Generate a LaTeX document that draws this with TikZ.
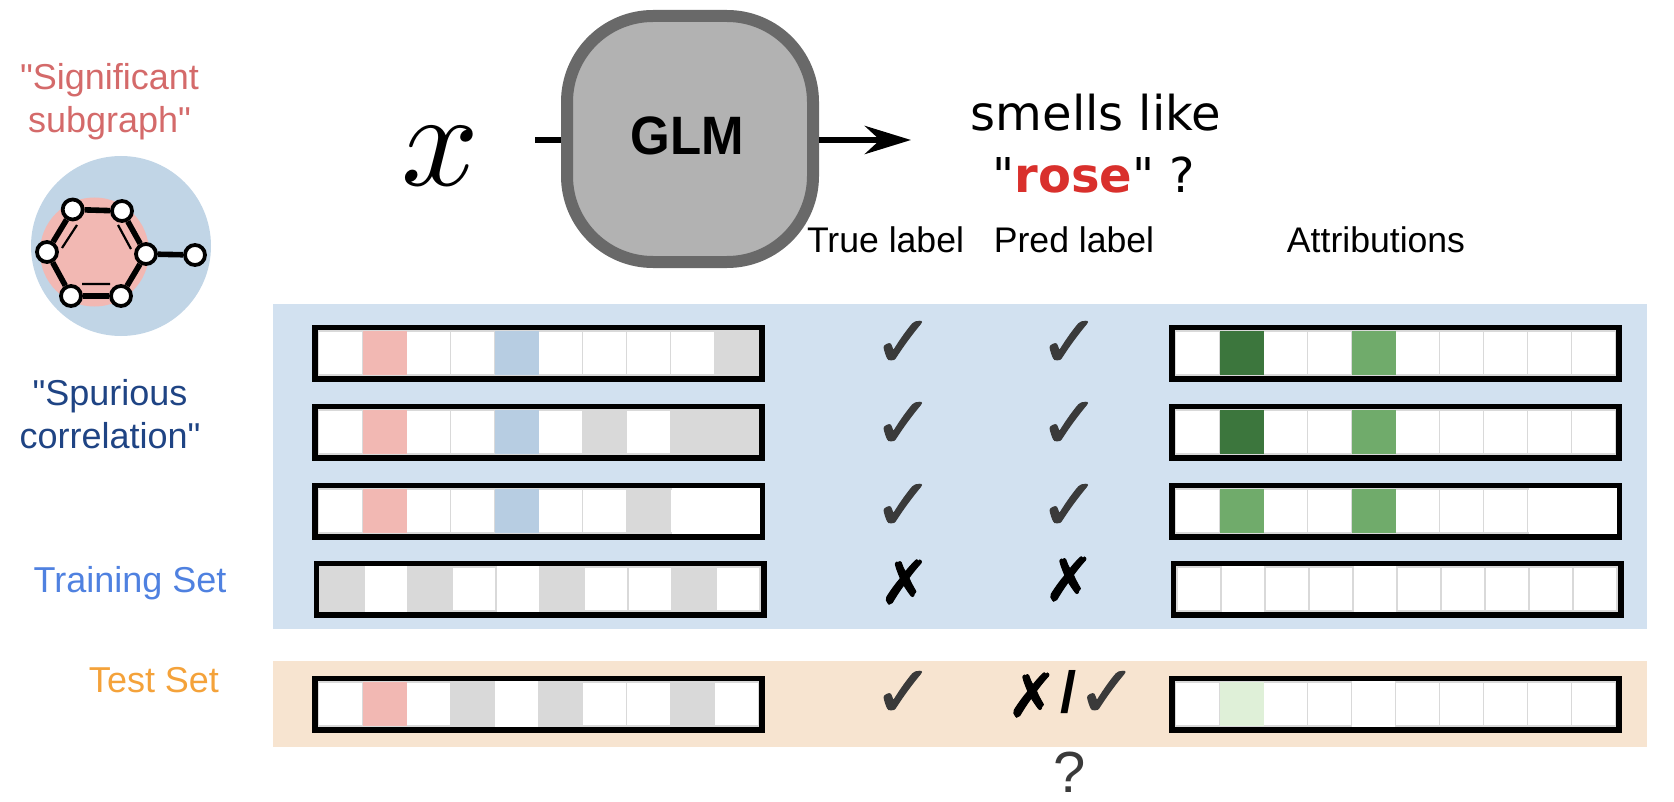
\documentclass[tikz,border=0pt]{standalone}
\usepackage{fontspec}
\setmainfont{Liberation Sans}
\newfontfamily\dejavu{DejaVu Sans}
\newfontfamily\liberation{Liberation Sans}
\newfontfamily\markfont{DejaVu Sans}[FakeBold=1.6]
\usetikzlibrary{arrows.meta}
\definecolor{panelblue}{HTML}{D2E1F0}
\definecolor{panelorange}{HTML}{F7E4D0}
\definecolor{cpink}{HTML}{F2B8B3}
\definecolor{cblue}{HTML}{B7CDE2}
\definecolor{cgray}{HTML}{D9D9D9}
\definecolor{gdark}{HTML}{3C763D}
\definecolor{gmid}{HTML}{70AB6B}
\definecolor{glight}{HTML}{DFF0D8}
\definecolor{molblue}{HTML}{C1D5E6}
\definecolor{sigred}{HTML}{D46A6A}
\definecolor{spublue}{HTML}{1F4484}
\definecolor{trainblue}{HTML}{4F81E0}
\definecolor{testorange}{HTML}{F4A23A}
\definecolor{rosered}{HTML}{D9302C}
\definecolor{markgray}{HTML}{3A3A3A}
\newcommand{\sq}{{\liberation"}}
\tikzset{
  x=0.5pt,y=-0.5pt,
  label/.style={inner sep=0,align=center,font=\fontsize{18}{21.5}\selectfont},
  sidelabel/.style={inner sep=0,anchor=base,font=\fontsize{18}{20}\selectfont},
  headlabel/.style={inner sep=0,anchor=base,font=\fontsize{17.8}{20}\selectfont},
  atom/.style={circle,draw=black,fill=white,line width=1.9pt,minimum size=10pt,inner sep=0},
  bond/.style={line width=2.8pt,black},
  thinbond/.style={line width=1.1pt,black},
  checkmark/.style={inner sep=0,text=markgray,font=\markfont\fontsize{36}{36}\selectfont},
  crossmark/.style={inner sep=0,text=black,font=\markfont\fontsize{30}{30}\selectfont},
  flow/.style={line width=3.4pt,black},
}
\newcommand{\cellbar}[4]{%
  % #1 x inner left, #2 y inner top, #3 list of index/colour, #4 list of cells with no top and bottom line
  \fill[black] (#1-6.5,#2-6.5) rectangle (#1+446.5,#2+50.5);
  \fill[white] (#1,#2) rectangle (#1+440,#2+44);
  \foreach \i in {0,...,9}{%
    \draw[cgray,line width=0.7pt] (#1+44*\i,#2) rectangle (#1+44*\i+44,#2+44);
  }%
  \foreach \i in {#4}{%
    \fill[white] (#1+44*\i+0.8,#2-0.8) rectangle (#1+44*\i+43.2,#2+44.8);
  }%
  \foreach \i/\c in {#3}{%
    \fill[\c] (#1+44*\i,#2) rectangle (#1+44*\i+44,#2+44);
  }%
}
\begin{document}
\begin{tikzpicture}
\useasboundingbox (0,0) rectangle (1674,802);
\fill[panelblue] (273,304) rectangle (1647,629);
\fill[panelorange] (273,661) rectangle (1647,747);
% input bars
\cellbar{318.5}{331}{1/cpink,4/cblue,9/cgray}{}
\cellbar{318.5}{410}{1/cpink,4/cblue,6/cgray,8/cgray,9/cgray}{}
\cellbar{318.5}{489}{1/cpink,4/cblue,7/cgray}{}
\fill[white] (1+318.5+44*8,488) rectangle (318.5+440+1,534);
\cellbar{320}{567}{0/cgray,2/cgray,5/cgray,8/cgray}{1,4}
\cellbar{318.5}{682}{1/cpink,3/cgray,5/cgray,8/cgray}{4}
% attribution bars
\cellbar{1175.5}{331}{1/gdark,4/gmid}{}
\cellbar{1175.5}{410}{1/gdark,4/gmid}{}
\cellbar{1175.5}{489}{1/gmid,4/gmid}{}
\fill[white] (1+1175.5+44*8,488) rectangle (1175.5+440+1,534);
\cellbar{1177}{567}{}{1,4}
\cellbar{1175.5}{682}{1/glight}{4}
% molecule
\fill[molblue] (121,246) circle (90);
\fill[cpink] (94.5,252) circle (54.5);
\node[atom] (a1) at (72.7,209.5) {};
\node[atom] (a2) at (122,211) {};
\node[atom] (a3) at (146,254) {};
\node[atom] (a4) at (121,296) {};
\node[atom] (a5) at (71,296) {};
\node[atom] (a6) at (47,252) {};
\node[atom] (a7) at (195,255) {};
\draw[bond] (a1)--(a2) (a2)--(a3) (a3)--(a4) (a4)--(a5) (a5)--(a6) (a6)--(a1) (a3)--(a7);
\coordinate (d1s) at (77,225); \coordinate (d1e) at (62,248);
\coordinate (d2s) at (118,225); \coordinate (d2e) at (131,249);
\coordinate (d3s) at (82,284); \coordinate (d3e) at (110,284);
\draw[thinbond] (d1s)--(d1e) (d2s)--(d2e) (d3s)--(d3e);
% left labels
\node[label,text=sigred] (sig) at (109.5,102) {\sq Significant\\subgraph\sq};
\node[label,text=spublue] (spu) at (110,414) {\sq Spurious\\correlation\sq};
\node[sidelabel,text=trainblue] (train) at (130,592) {Training Set};
\node[sidelabel,text=testorange] (test) at (154,692) {Test Set};
% model
\node[draw=black!59,fill=black!30,line width=6pt,rounded corners=43pt,minimum width=123pt,minimum height=123pt,inner sep=0] (glm) at (690,139) {};
\node[inner sep=0,yscale=1.06,font=\bfseries\fontsize{25.5}{25.5}\selectfont] (glmtext) at (687,136) {GLM};
\node[scale=6.8,inner sep=0] (x) at (440,156) {$x$};
\coordinate (inp) at (535,140);
\coordinate (out) at (911,140);
\draw[flow] (inp) -- (glm.west |- inp);
\draw[flow,-{Stealth[length=23pt,width=14pt]}] (glm.east |- out) -- (out);
\node[inner sep=0,anchor=base,font=\dejavu\fontsize{24}{24}\selectfont] (sm) at (1096,131) {smells like};
\node[inner sep=0,anchor=base,font=\dejavu\fontsize{24}{24}\selectfont] (ro) at (1094,193) {"{\bfseries\color{rosered}rose}" ?};
% column heads
\node[headlabel] (h1) at (885.5,252) {True label};
\node[headlabel] (h2) at (1074,252) {Pred label};
\node[headlabel] (h3) at (1376,252) {Attributions};
% marks
\foreach \n/\xx/\yy in {c1/903.5/344,c2/1069.5/344,c3/903.5/425,c4/1069.5/425,c5/903.5/507,c6/1069.5/507,c7/903.5/694}{
  \node[checkmark] (\n) at (\xx,\yy) {✓};
}
\node[crossmark] (c8) at (904.5,582) {✗};
\node[crossmark] (c9) at (1069,579) {✗};
\node[crossmark] (c10) at (1032,695) {✗};
\node[inner sep=0,font=\bfseries\fontsize{29}{29}\selectfont] (sl) at (1069,692) {/};
\node[checkmark] (c11) at (1107,694) {✓};
\node[inner sep=0,text=markgray,font=\fontsize{29}{29}\selectfont] (qq) at (1069.5,772.5) {?};
\end{tikzpicture}
\end{document}
